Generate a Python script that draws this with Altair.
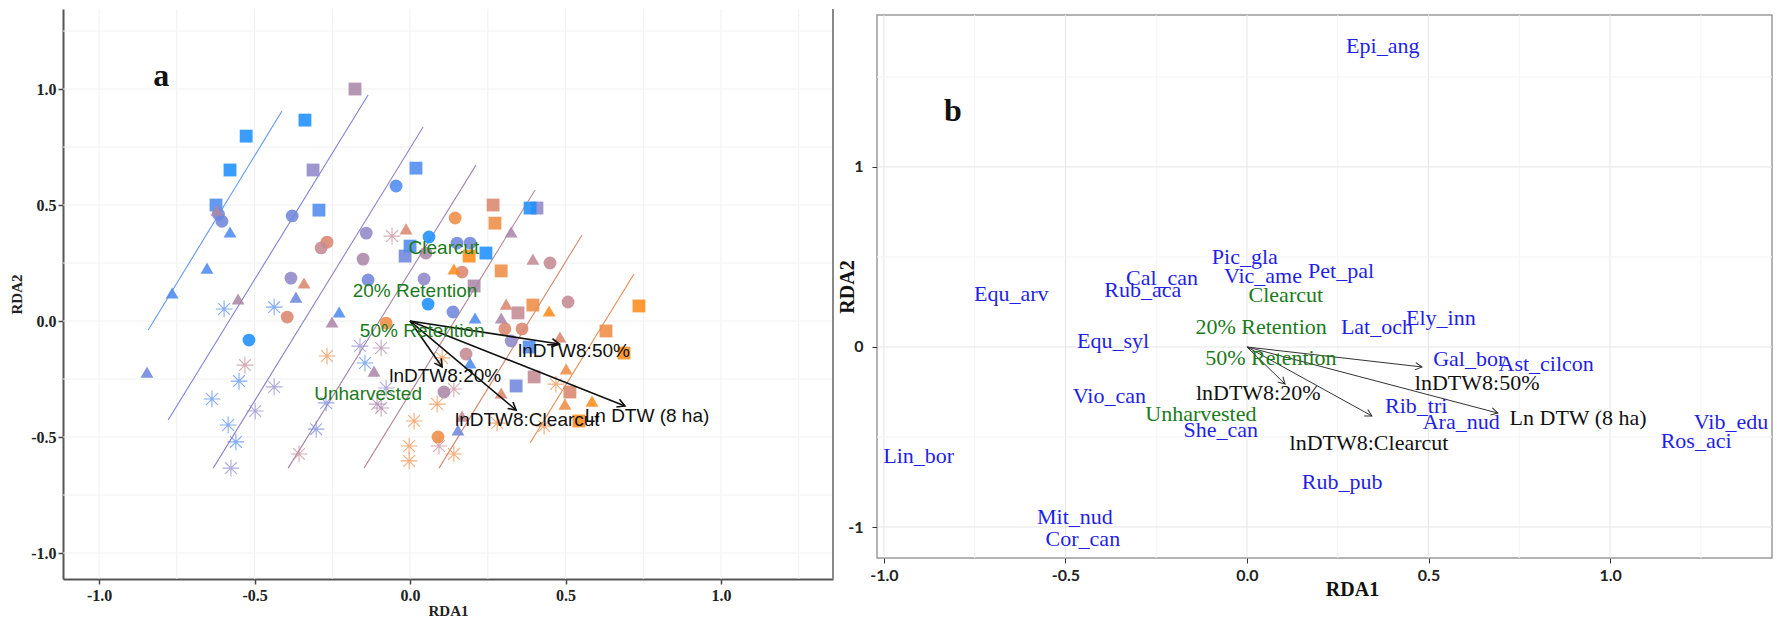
import math
import altair as alt
import pandas as pd

# ---------------- colour levels (blue -> orange gradient of DTW) ----------------
PALETTE = ["#1E90FF", "#4F8BEF", "#7186DC", "#8F88C8", "#AB87A8",
           "#C48A93", "#D9876F", "#EE8C45", "#FF8C1A"]
LEVELS = list(range(9))

# ---------------- Panel a : site scores ----------------
sq_x = [-0.177, -0.338, -0.527, -0.579, -0.312, -0.624, -0.293, 0.019, -0.016, 0.0,
        0.244, 0.19, 0.267, 0.273, 0.408, 0.386, 0.293, 0.206, 0.347, 0.395,
        0.736, 0.383, 0.63, 0.688, 0.341, 0.399, 0.514, 0.543]
sq_y = [1.0, 0.866, 0.797, 0.651, 0.651, 0.5, 0.478, 0.659, 0.28, 0.323,
        0.293, 0.28, 0.5, 0.422, 0.487, 0.487, 0.216, 0.151, 0.035, 0.069,
        0.065, -0.112, -0.043, -0.138, -0.28, -0.241, -0.306, -0.431]
sq_c = [4, 0, 0, 0, 3, 1, 1, 1, 2, 1,
        0, 8, 6, 7, 3, 0, 7, 4, 5, 7,
        8, 1, 7, 8, 2, 5, 6, 8]

ci_x = [-0.616, -0.605, -0.379, -0.045, -0.267, -0.286, -0.141, -0.151, -0.383, -0.135,
        -0.395, -0.518, -0.077, 0.061, 0.051, 0.145, 0.151, 0.193, 0.45, 0.167,
        0.045, 0.058, 0.138, 0.508, 0.305, 0.36, 0.325, 0.18, 0.109, 0.09]
ci_y = [0.46, 0.43, 0.453, 0.582, 0.34, 0.315, 0.379, 0.267, 0.185, 0.177,
        0.017, -0.082, -0.009, 0.362, 0.293, 0.444, 0.336, 0.336, 0.25, 0.211,
        0.181, 0.073, 0.039, 0.082, -0.034, -0.034, -0.086, -0.142, -0.306, -0.5]
ci_c = [2, 2, 2, 1, 6, 5, 3, 4, 3, 2,
        6, 0, 7, 0, 4, 7, 2, 2, 5, 6,
        3, 0, 2, 5, 6, 6, 3, 5, 4, 7]

tr_x = [-0.621, -0.579, -0.653, -0.765, -0.846, -0.553, -0.367, -0.341, -0.228, -0.251,
        -0.013, -0.116, 0.325, 0.395, 0.141, 0.209, 0.309, 0.293, 0.447, 0.482,
        0.193, 0.502, 0.498, 0.585, 0.293, 0.154, 0.167]
tr_y = [0.478, 0.384, 0.228, 0.121, -0.22, 0.095, 0.103, 0.164, 0.039, -0.004,
        0.397, -0.216, 0.384, 0.267, 0.224, 0.013, 0.073, 0.013, 0.043, -0.069,
        -0.181, -0.207, -0.358, -0.345, -0.31, -0.47, -0.41]
tr_c = [4, 1, 1, 1, 2, 4, 2, 6, 1, 4,
        6, 4, 4, 5, 8, 1, 6, 4, 8, 6,
        1, 7, 7, 8, 6, 2, 5]

as_x = [-0.058, -0.598, -0.437, -0.531, -0.55, -0.637, -0.437, -0.498, -0.585, -0.56,
        -0.576, -0.302, -0.357, -0.267, -0.161, -0.093, -0.145, -0.27, -0.093, -0.077,
        0.013, -0.003, -0.003, 0.087, 0.093, 0.103, 0.141, 0.141, 0.28, 0.469,
        0.431, -0.106]
as_y = [0.366, 0.052, 0.06, -0.19, -0.259, -0.336, -0.284, -0.388, -0.448, -0.521,
        -0.634, -0.466, -0.573, -0.151, -0.108, -0.116, -0.181, -0.353, -0.375, -0.289,
        -0.431, -0.539, -0.603, -0.358, -0.539, -0.159, -0.293, -0.573, -0.44, -0.272,
        -0.453, -0.358]
as_c = [5, 1, 1, 5, 1, 1, 3, 3, 1, 1,
        3, 2, 5, 7, 3, 4, 1, 2, 4, 3,
        7, 7, 7, 7, 5, 7, 5, 7, 7, 7,
        7, 4]

# fitted surface contour lines (start / end points)
ln_x1 = [-0.412, -0.135, 0.042, 0.212, 0.402, 0.553, 0.720]
ln_y1 = [0.905, 0.974, 0.836, 0.672, 0.565, 0.371, 0.203]
ln_x2 = [-0.842, -0.778, -0.633, -0.392, -0.148, 0.093, 0.386]
ln_y2 = [-0.039, -0.427, -0.634, -0.634, -0.634, -0.634, -0.526]
ln_col = ["#6699EE", "#7F80D6", "#9383C4", "#A386AE", "#B8869A", "#D4896F", "#E98A50"]

# biplot arrows (tips)
a_arr_x = [0.48, 0.691, 0.341, 0.103]
a_arr_y = [-0.099, -0.366, -0.384, -0.198]

a_lab = ["Clearcut", "20% Retention", "50% Retention", "lnDTW8:20%", "Unharvested",
         "lnDTW8:50%", "lnDTW8:Clearcut", "Ln DTW (8 ha)"]
a_lx = [0.109, 0.016, 0.039, 0.113, -0.135, 0.527, 0.377, 0.762]
a_ly = [0.315, 0.129, -0.043, -0.237, -0.315, -0.129, -0.427, -0.41]
a_lk = ["trt", "trt", "trt", "env", "trt", "env", "env", "env"]

# ---------------- Panel b : species scores ----------------
b_lab = ["Epi_ang", "Pic_gla", "Cal_can", "Vic_ame", "Pet_pal", "Equ_arv", "Rub_aca",
         "Clearcut", "Ely_inn", "Lat_och", "20% Retention", "Equ_syl", "50% Retention",
         "Gal_bor", "Ast_cilcon", "lnDTW8:50%", "lnDTW8:20%", "Vio_can", "Rib_tri",
         "Unharvested", "Ln DTW (8 ha)", "Ara_nud", "Vib_edu", "She_can", "Ros_aci",
         "lnDTW8:Clearcut", "Lin_bor", "Rub_pub", "Mit_nud", "Cor_can"]
b_lx = [0.374, -0.006, -0.234, 0.044, 0.259, -0.649, -0.287,
        0.107, 0.534, 0.358, 0.039, -0.369, 0.066,
        0.612, 0.824, 0.634, 0.031, -0.379, 0.466,
        -0.127, 0.912, 0.59, 1.333, -0.072, 1.237,
        0.336, -0.904, 0.262, -0.474, -0.452]
b_ly = [1.672, 0.50, 0.383, 0.394, 0.422, 0.294, 0.317,
        0.289, 0.161, 0.111, 0.111, 0.033, -0.061,
        -0.067, -0.094, -0.2, -0.256, -0.274, -0.328,
        -0.372, -0.394, -0.417, -0.417, -0.461, -0.522,
        -0.533, -0.605, -0.75, -0.944, -1.067]
b_lk = ["sp", "sp", "sp", "sp", "sp", "sp", "sp",
        "trt", "sp", "sp", "trt", "sp", "trt",
        "sp", "sp", "env", "env", "sp", "sp",
        "trt", "env", "sp", "sp", "sp", "sp",
        "env", "sp", "sp", "sp", "sp"]

b_arr_x = [0.482, 0.691, 0.344, 0.105]
b_arr_y = [-0.111, -0.367, -0.383, -0.206]

# axis / grid values
a_ticks = [-1.0, -0.5, 0.0, 0.5, 1.0]
a_grid = [-1.0, -0.75, -0.5, -0.25, 0.0, 0.25, 0.5, 0.75, 1.0, 1.25]
b_xticks = [-1.0, -0.5, 0.0, 0.5, 1.0]
b_yticks = [-1, 0, 1]
b_xgrid = [-1.0, -0.75, -0.5, -0.25, 0.0, 0.25, 0.5, 0.75, 1.0, 1.25]
b_ygrid = [-1.0, -0.5, 0.0, 0.5, 1.0, 1.5]

# ---------------- layout / style ----------------
A_XDOM, A_YDOM = [-1.116, 1.36], [-1.112, 1.345]
A_W, A_H = 770, 570
B_XDOM, B_YDOM = [-1.019, 1.446], [-1.172, 1.844]
B_W, B_H = 895, 543

TXT_COL = {"sp": "#1F1FE6", "trt": "#1C7A1C", "env": "#111111"}
ASTER = "M-1,0L1,0M0,-1L0,1M-0.7,-0.7L0.7,0.7M-0.7,0.7L0.7,-0.7"
HEAD = "M-1,-0.55L0,0L-1,0.55"
LBL1 = "datum.value < 0 ? '-' + format(-datum.value, '.1f') : format(datum.value, '.1f')"
LBL0 = "datum.value < 0 ? '-' + format(-datum.value, 'd') : format(datum.value, 'd')"


def angle_deg(x, y, sx, sy):
    return (math.degrees(math.atan2(-y * sy, x * sx)) + 360.0) % 360.0


# ---------------- Panel a chart ----------------
a_sx = A_W / (A_XDOM[1] - A_XDOM[0])
a_sy = A_H / (A_YDOM[1] - A_YDOM[0])

a_xaxis = alt.Axis(values=a_ticks, labelExpr=LBL1, title="RDA1", grid=False,
                   domainColor="#555555", domainWidth=2, tickColor="#444444", tickSize=5,
                   tickWidth=1.5, labelPadding=3, labelFont="Liberation Serif",
                   labelFontWeight="bold", labelFontSize=16, labelColor="#222222",
                   titleFont="Liberation Serif", titleFontWeight="bold", titleFontSize=15,
                   titleColor="#222222", titleX=A_W / 2, titleY=24, titleBaseline="top")
a_yaxis = alt.Axis(values=a_ticks, labelExpr=LBL1, title="RDA2", grid=False,
                   domainColor="#555555", domainWidth=2, tickColor="#444444", tickSize=5,
                   tickWidth=1.5, labelPadding=2, labelFont="Liberation Serif",
                   labelFontWeight="bold", labelFontSize=16, labelColor="#222222",
                   titleFont="Liberation Serif", titleFontWeight="bold", titleFontSize=15,
                   titleColor="#222222", titleX=-39, titleY=A_H / 2, titleBaseline="bottom")
a_xs = alt.Scale(domain=A_XDOM, nice=False, zero=False)
a_ys = alt.Scale(domain=A_YDOM, nice=False, zero=False)


def AX(f):
    return alt.X(f, type="quantitative", scale=a_xs, axis=a_xaxis)


def AY(f):
    return alt.Y(f, type="quantitative", scale=a_ys, axis=a_yaxis)


a_gv = alt.Chart(pd.DataFrame({"x": a_grid})).mark_rule(color="#F0F0F0", strokeWidth=1).encode(x=AX("x"))
a_gh = alt.Chart(pd.DataFrame({"y": a_grid})).mark_rule(color="#F0F0F0", strokeWidth=1).encode(y=AY("y"))

a_lines = alt.Chart(pd.DataFrame({"x": ln_x1, "y": ln_y1, "x2": ln_x2, "y2": ln_y2, "c": ln_col})
                    ).mark_rule(strokeWidth=1.1).encode(
    x=AX("x"), y=AY("y"), x2="x2", y2="y2", color=alt.Color("c:N", scale=None))

pts = pd.concat([
    pd.DataFrame({"x": sq_x, "y": sq_y, "lvl": sq_c, "shp": "square"}),
    pd.DataFrame({"x": ci_x, "y": ci_y, "lvl": ci_c, "shp": "circle"}),
    pd.DataFrame({"x": tr_x, "y": tr_y, "lvl": tr_c, "shp": "triangle"}),
], ignore_index=True)

a_ast = alt.Chart(pd.DataFrame({"x": as_x, "y": as_y, "lvl": as_c})).mark_point(
    shape=ASTER, filled=False, size=280, strokeWidth=1.1, opacity=0.7).encode(
    x=AX("x"), y=AY("y"),
    color=alt.Color("lvl:O", scale=alt.Scale(domain=LEVELS, range=PALETTE), legend=None))

a_pts = alt.Chart(pts).mark_point(filled=True, opacity=0.88, strokeWidth=0).encode(
    x=AX("x"), y=AY("y"),
    color=alt.Color("lvl:O", scale=alt.Scale(domain=LEVELS, range=PALETTE), legend=None),
    shape=alt.Shape("shp:N", scale=alt.Scale(domain=["square", "circle", "triangle"],
                                             range=["square", "circle", "triangle-up"]), legend=None),
    size=alt.Size("shp:N", scale=alt.Scale(domain=["square", "circle", "triangle"],
                                           range=[165, 165, 300]), legend=None))

a_arr_df = pd.DataFrame({"x0": [0.0] * len(a_arr_x), "y0": [0.0] * len(a_arr_x),
                         "x": a_arr_x, "y": a_arr_y,
                         "ang": [angle_deg(x, y, a_sx, a_sy) for x, y in zip(a_arr_x, a_arr_y)]})
a_arr = alt.Chart(a_arr_df).mark_rule(color="#111111", strokeWidth=1.6).encode(
    x=AX("x0"), y=AY("y0"), x2="x", y2="y")
a_head = alt.Chart(a_arr_df).mark_point(shape=HEAD, filled=False, size=230, strokeWidth=1.6,
                                        color="#111111", opacity=1).encode(
    x=AX("x"), y=AY("y"), angle=alt.Angle("ang:Q", scale=None))

a_txt = alt.Chart(pd.DataFrame({"x": a_lx, "y": a_ly, "t": a_lab,
                                "c": [TXT_COL[k] for k in a_lk]})).mark_text(
    font="Liberation Sans", fontSize=19, align="center", baseline="middle").encode(
    x=AX("x"), y=AY("y"), text="t:N", color=alt.Color("c:N", scale=None))

a_letter = alt.Chart(pd.DataFrame({"x": [-0.80], "y": [1.013], "t": ["a"]})).mark_text(
    font="Liberation Serif", fontWeight="bold", fontSize=32, align="center",
    baseline="alphabetic", color="#111111").encode(x=AX("x"), y=AY("y"), text="t:N")

a_right = alt.Chart(pd.DataFrame({"x": [A_XDOM[1]]})).mark_rule(color="#888888", strokeWidth=2).encode(
    x=AX("x"))

panel_a = alt.layer(a_gv, a_gh, a_lines, a_ast, a_pts, a_arr, a_head, a_txt, a_letter, a_right
                    ).properties(width=A_W, height=A_H,
                                 view=alt.ViewBackground(stroke=None))

# ---------------- Panel b chart ----------------
b_sx = B_W / (B_XDOM[1] - B_XDOM[0])
b_sy = B_H / (B_YDOM[1] - B_YDOM[0])

b_xaxis = alt.Axis(values=b_xticks, labelExpr=LBL1, title="RDA1", grid=False, domain=False,
                   tickColor="#333333", tickSize=5, tickWidth=1, labelPadding=4,
                   labelFont="Lato", labelFontWeight="bold", labelFontSize=16,
                   labelColor="#222222", titleFont="Liberation Serif", titleFontWeight="bold",
                   titleFontSize=20, titleColor="#111111", titleX=475, titleY=21,
                   titleBaseline="top")
b_yaxis = alt.Axis(values=b_yticks, labelExpr=LBL0, title="RDA2", grid=False, domain=False,
                   tickColor="#333333", tickSize=5, tickWidth=1, labelPadding=9,
                   labelFont="Lato", labelFontWeight="bold", labelFontSize=16,
                   labelColor="#222222", titleFont="Liberation Serif", titleFontWeight="bold",
                   titleFontSize=20, titleColor="#111111", titleX=-20, titleY=B_H / 2,
                   titleBaseline="bottom")
b_xs = alt.Scale(domain=B_XDOM, nice=False, zero=False)
b_ys = alt.Scale(domain=B_YDOM, nice=False, zero=False)


def BX(f):
    return alt.X(f, type="quantitative", scale=b_xs, axis=b_xaxis)


def BY(f):
    return alt.Y(f, type="quantitative", scale=b_ys, axis=b_yaxis)


b_gv = alt.Chart(pd.DataFrame({"x": b_xgrid, "major": [abs(v * 2 - round(v * 2)) < 1e-9 for v in b_xgrid]})
                 ).mark_rule(strokeWidth=1).encode(
    x=BX("x"),
    color=alt.condition("datum.major", alt.value("#E6E6E6"), alt.value("#F3F3F3")))
b_gh = alt.Chart(pd.DataFrame({"y": b_ygrid, "major": [abs(v - round(v)) < 1e-9 for v in b_ygrid]})
                 ).mark_rule(strokeWidth=1).encode(
    y=BY("y"),
    color=alt.condition("datum.major", alt.value("#E6E6E6"), alt.value("#F3F3F3")))

b_arr_df = pd.DataFrame({"x0": [0.0] * len(b_arr_x), "y0": [0.0] * len(b_arr_x),
                         "x": b_arr_x, "y": b_arr_y,
                         "ang": [angle_deg(x, y, b_sx, b_sy) for x, y in zip(b_arr_x, b_arr_y)]})
b_arr = alt.Chart(b_arr_df).mark_rule(color="#333333", strokeWidth=1).encode(
    x=BX("x0"), y=BY("y0"), x2="x", y2="y")
b_head = alt.Chart(b_arr_df).mark_point(shape=HEAD, filled=False, size=180, strokeWidth=1,
                                        color="#333333", opacity=1).encode(
    x=BX("x"), y=BY("y"), angle=alt.Angle("ang:Q", scale=None))

b_txt = alt.Chart(pd.DataFrame({"x": b_lx, "y": b_ly, "t": b_lab,
                                "c": [TXT_COL[k] for k in b_lk]})).mark_text(
    font="Liberation Serif", fontSize=22, align="center", baseline="middle").encode(
    x=BX("x"), y=BY("y"), text="t:N", color=alt.Color("c:N", scale=None))

b_letter = alt.Chart(pd.DataFrame({"x": [-0.81], "y": [1.256], "t": ["b"]})).mark_text(
    font="Liberation Serif", fontWeight="bold", fontSize=32, align="center",
    baseline="alphabetic", color="#111111").encode(x=BX("x"), y=BY("y"), text="t:N")

panel_b = alt.layer(b_gv, b_gh, b_arr, b_head, b_txt, b_letter).properties(
    width=B_W, height=B_H,
    view=alt.ViewBackground(stroke="#9A9A9A", strokeWidth=1.5))

# empty strip above panel b so that it sits a little lower than panel a
spacer = alt.Chart(pd.DataFrame({"v": [0]})).mark_point(opacity=0, size=0, strokeWidth=0).encode(
    x=alt.X("v:Q", axis=None), y=alt.Y("v:Q", axis=None)
).properties(width=B_W, height=1, view=alt.ViewBackground(stroke=None))

right_col = alt.vconcat(spacer, panel_b, spacing=3)

chart = alt.hconcat(panel_a, right_col, spacing=2).properties(
    padding={"left": 9, "top": 8, "right": 5, "bottom": 2},
    background="white"
).configure_view(stroke=None)

chart.save("out.html", embed_options={"renderer": "svg", "actions": False})
